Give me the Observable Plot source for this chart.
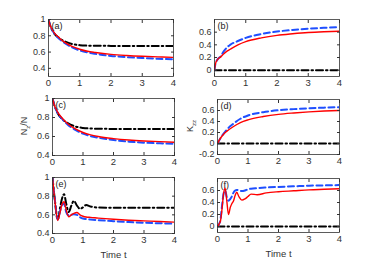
<!DOCTYPE html>
<html><head><meta charset="utf-8">
<script src="https://cdn.jsdelivr.net/npm/d3@7"></script>
<script src="https://cdn.jsdelivr.net/npm/@observablehq/plot@0.6"></script>
<style>
body{margin:0;background:#fff;font-family:"Liberation Sans",Arial,sans-serif;}
#wrap{position:relative;width:374px;height:262px;overflow:hidden;}
#wrap svg{position:absolute;overflow:visible;}
.yl{position:absolute;font-size:9px;color:#333;transform:rotate(-90deg);transform-origin:center;white-space:nowrap;}
.yl sub{font-size:6px;}
</style>
</head><body><div id="wrap"></div>
<script>
// ---- data ----
const xTicks = [0, 1, 2, 3, 4];
const yTicksN = [0.4, 0.6, 0.8, 1];
const yTicksB = [0, 0.2, 0.4, 0.6];
const yTicksD = [-0.2, 0, 0.2, 0.4, 0.6];
const panelLabels = ["(a)", "(b)", "(c)", "(d)", "(e)", "(f)"];
const xLabel = "Time t";

const tA = [0,0.05,0.1,0.2,0.3,0.4,0.5,0.75,1,1.25,1.5,2,2.5,3,3.5,4];
const aRed   = [1.0,0.93,0.89,0.83,0.79,0.755,0.725,0.67,0.635,0.61,0.595,0.572,0.558,0.548,0.541,0.535];
const aBlue  = [1.0,0.93,0.885,0.82,0.78,0.745,0.715,0.66,0.62,0.595,0.578,0.553,0.538,0.527,0.518,0.512];
const aBlack = [1.0,0.93,0.885,0.82,0.785,0.755,0.735,0.7,0.685,0.679,0.677,0.676,0.675,0.675,0.675,0.675];

const tB = [0,0.03,0.1,0.2,0.3,0.4,0.5,0.75,1,1.5,2,2.5,3,3.5,4];
const bRed  = [0,0.1,0.17,0.21,0.26,0.3,0.33,0.40,0.45,0.51,0.55,0.575,0.595,0.607,0.615];
const bBlue = [0,0.1,0.17,0.22,0.3,0.36,0.40,0.46,0.51,0.57,0.61,0.635,0.655,0.668,0.68];

const tC = [0,0.05,0.1,0.2,0.3,0.4,0.5,0.75,1,1.25,1.5,2,2.5,3,3.5,4];
const cRed   = [1.0,0.94,0.9,0.84,0.8,0.765,0.735,0.68,0.642,0.617,0.6,0.578,0.563,0.553,0.546,0.54];
const cBlue  = [1.0,0.94,0.895,0.83,0.79,0.755,0.725,0.67,0.63,0.604,0.587,0.562,0.546,0.535,0.528,0.522];
const cBlack = [1.0,0.94,0.895,0.83,0.79,0.76,0.74,0.705,0.69,0.684,0.682,0.68,0.68,0.68,0.68,0.68];

const tD = [0,0.1,0.2,0.3,0.5,0.75,1,1.5,2,2.5,3,3.5,4];
const dRed  = [0,0.1,0.17,0.22,0.3,0.38,0.43,0.49,0.53,0.555,0.575,0.59,0.6];
const dBlue = [0,0.1,0.18,0.25,0.35,0.45,0.51,0.57,0.605,0.625,0.64,0.652,0.66];

const tE = [0,0.08,0.17,0.25,0.3,0.38,0.45,0.53,0.62,0.7,0.8,0.9,1.0,1.1,1.25,1.5,2,2.5,3,3.5,4];
const eRed   = [1.0,0.75,0.54,0.63,0.7,0.74,0.65,0.58,0.60,0.615,0.625,0.60,0.585,0.577,0.573,0.565,0.552,0.542,0.535,0.528,0.522];
const eBlue  = [1.0,0.75,0.55,0.64,0.7,0.72,0.63,0.595,0.60,0.605,0.60,0.575,0.56,0.555,0.55,0.543,0.532,0.522,0.515,0.51,0.505];
const eBlack = [1.0,0.75,0.55,0.68,0.76,0.82,0.72,0.63,0.70,0.75,0.70,0.665,0.68,0.705,0.69,0.678,0.675,0.675,0.675,0.675,0.675];

const tF = [0,0.05,0.1,0.15,0.2,0.25,0.3,0.36,0.42,0.47,0.52,0.58,0.63,0.7,0.8,0.9,1.0,1.1,1.3,1.6,2,2.5,3,3.5,4];
const fRed  = [0,0.04,0.1,0.3,0.55,0.64,0.45,0.2,0.32,0.38,0.42,0.52,0.57,0.5,0.44,0.46,0.5,0.54,0.53,0.56,0.58,0.595,0.61,0.62,0.63];
const fBlue = [0,0.04,0.12,0.35,0.55,0.6,0.5,0.43,0.46,0.5,0.56,0.6,0.61,0.6,0.59,0.6,0.62,0.63,0.64,0.65,0.66,0.67,0.68,0.685,0.69];

const tFlat = [0, 4];
const kBlack = [0, 0];

// ---- drawing ----
const RED = "#ff0000", BLUE = "#1f4fff", BLACK = "#000";
const ML = 30, MR = 4, MT = 4;
const wrap = document.getElementById("wrap");

function series(t, y){ return t.map((v,i)=>({t:v, y:y[i]})); }

function panel({box, ydom, yticks, red, blue, black, label, xlab}) {
  const [x0, x1, y0, y1] = box;
  const MB = xlab ? 28 : 16;
  const lines = [];
  const common = {x:"t", y:"y", curve:"monotone-x", clip:true};
  lines.push(Plot.line(series(black[0], black[1]), {...common, stroke:BLACK, strokeWidth:2, strokeDasharray:"7,3,1.5,3"}));
  lines.push(Plot.line(series(blue[0], blue[1]), {...common, stroke:BLUE, strokeWidth:2, strokeDasharray:"6,3.5"}));
  lines.push(Plot.line(series(red[0], red[1]), {...common, stroke:RED, strokeWidth:1.4}));
  const svg = Plot.plot({
    width: (x1-x0)+ML+MR, height: (y1-y0)+MT+MB,
    marginLeft: ML, marginRight: MR, marginTop: MT, marginBottom: MB,
    style: {fontSize:"9px", fontFamily:"'Liberation Sans', Arial, sans-serif", color:"#333", background:"transparent"},
    x: {domain:[0,4]},
    y: {domain: ydom},
    marks: [
      ...lines,
      Plot.axisX({ticks:xTicks, tickSize:-3, tickPadding:6, tickFormat:d=>d, label: xlab || null, labelAnchor:"center", labelArrow:"none", labelOffset:24, fontSize:9.5, fontWeight:"normal"}),
      Plot.axisX({anchor:"top", ticks:xTicks, tickSize:-3, tickFormat:()=>"", label:null}),
      Plot.axisY({ticks:yticks, tickSize:-3, tickPadding:6, tickFormat:d=>d, label:null}),
      Plot.axisY({anchor:"right", ticks:yticks, tickSize:-3, tickFormat:()=>"", label:null}),
      Plot.frame({stroke:"#333", strokeWidth:0.8}),
      Plot.text([label], {frameAnchor:"top-left", dx:3, dy:3, text:d=>d, fontSize:9, fill:"#222"})
    ]
  });
  svg.style.left = (x0-ML)+"px";
  svg.style.top = (y0-MT)+"px";
  wrap.appendChild(svg);
}

panel({box:[48,173,19,76], ydom:[0.3,1], yticks:yTicksN, red:[tA,aRed], blue:[tA,aBlue], black:[tA,aBlack], label:panelLabels[0]});
panel({box:[214,339,19,76], ydom:[-0.1,0.8], yticks:yTicksB, red:[tB,bRed], blue:[tB,bBlue], black:[tFlat,kBlack], label:panelLabels[1]});
panel({box:[52,174,98,155], ydom:[0.4,1], yticks:yTicksN, red:[tC,cRed], blue:[tC,cBlue], black:[tC,cBlack], label:panelLabels[2]});
panel({box:[217,339,99,154], ydom:[-0.2,0.8], yticks:yTicksD, red:[tD,dRed], blue:[tD,dBlue], black:[tFlat,kBlack], label:panelLabels[3]});
panel({box:[52,174,177,233], ydom:[0.4,1], yticks:yTicksN, red:[tE,eRed], blue:[tE,eBlue], black:[tE,eBlack], label:panelLabels[4], xlab:xLabel});
panel({box:[217,339,178,232], ydom:[-0.1,0.8], yticks:yTicksB, red:[tF,fRed], blue:[tF,fBlue], black:[tFlat,kBlack], label:panelLabels[5], xlab:xLabel});

// y labels
function ylab(html, cx, cy){
  const d = document.createElement("div");
  d.className = "yl"; d.innerHTML = html;
  wrap.appendChild(d);
  const w = d.offsetWidth, h = d.offsetHeight;
  d.style.left = (cx - w/2)+"px"; d.style.top = (cy - h/2)+"px";
}
ylab("N<sub>z</sub>/N", 25, 126);
ylab("K<sub>zz</sub>", 191, 126);
</script></body></html>
